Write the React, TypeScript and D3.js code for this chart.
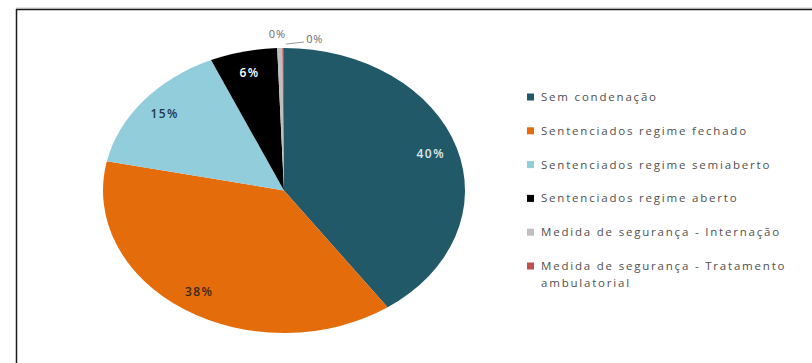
import React from "react";
import * as d3 from "d3";

const categories = [
  "Sem condenação",
  "Sentenciados regime fechado",
  "Sentenciados regime semiaberto",
  "Sentenciados regime aberto",
  "Medida de segurança - Internação",
  "Medida de segurança - Tratamento ambulatorial",
];
const legendLines = [
  ["Sem condenação"],
  ["Sentenciados regime fechado"],
  ["Sentenciados regime semiaberto"],
  ["Sentenciados regime aberto"],
  ["Medida de segurança - Internação"],
  ["Medida de segurança - Tratamento", "ambulatorial"],
];
const values = [40.3, 38.0, 15.1, 6.0, 0.45, 0.15];
const labels = ["40%", "38%", "15%", "6%", "0%", "0%"];
const colors = ["#215968", "#E46C0A", "#92CDDC", "#000000", "#BFBFBF", "#C0504D"];
const labelColors = ["#dfe7ea", "#3a2a1a", "#1f3a4a", "#ffffff", "#6a6a6a", "#6a6a6a"];

const W = 812;
const H = 363;
const cx = 284;
const cy = 190.5;
const rx = 181;
const ry = 142.5;
const R = 100;
const FONT = "'Open Sans', 'Liberation Sans', sans-serif";

export default function App() {
  const pie = d3.pie<number>().sort(null).value((d) => d);
  const arcs = pie(values);
  const arc = d3.arc<d3.PieArcDatum<number>>().innerRadius(0).outerRadius(R);
  const pt = (a: number, f: number) => [cx + rx * f * Math.sin(a), cy - ry * f * Math.cos(a)];

  const legendY = d3.scalePoint<number>().domain(d3.range(categories.length)).range([97, 266]);

  return (
    <div style={{ position: "absolute", left: 0, top: 0 }}>
      <svg width={W} height={H} style={{ display: "block", background: "#fff" }}>
        <line x1={16} x2={W} y1={8} y2={8} stroke="#c8c8c8" strokeWidth={1} />
        <line x1={16} x2={W} y1={9.5} y2={9.5} stroke="#1a1a1a" strokeWidth={1.5} />
        <line x1={16.5} x2={16.5} y1={9} y2={H} stroke="#1a1a1a" strokeWidth={1.5} />

        <g transform={`translate(${cx},${cy}) scale(${rx / R},${ry / R})`}>
          {arcs.map((a, i) => (
            <path key={i} d={arc(a) || ""} fill={colors[i]} />
          ))}
        </g>

        {arcs.map((a, i) => {
          const mid = (a.startAngle + a.endAngle) / 2;
          if (i < 4) {
            const [x, y] = pt(mid, 0.85);
            return (
              <text key={i} x={x} y={y} dy="0.35em" textAnchor="middle" fontFamily={FONT}
                fontSize={12} fontWeight={600} letterSpacing={1.4} fill={labelColors[i]}>
                {labels[i]}
              </text>
            );
          }
          if (i === 4) {
            const [x, y] = pt(mid, 1.1);
            return (
              <text key={i} x={x - 2} y={y} dy="0.35em" textAnchor="middle" fontFamily={FONT}
                fontSize={11} letterSpacing={0.8} fill={labelColors[i]}>
                {labels[i]}
              </text>
            );
          }
          const [x0, y0] = pt(mid, 1.0);
          return (
            <g key={i}>
              <line x1={x0 + 3} y1={y0 - 4} x2={x0 + 21} y2={y0 - 6} stroke="#9a9a9a" strokeWidth={1} />
              <text x={x0 + 23} y={y0 - 9} dy="0.35em" textAnchor="start" fontFamily={FONT}
                fontSize={11} letterSpacing={0.8} fill={labelColors[i]}>
                {labels[i]}
              </text>
            </g>
          );
        })}

        {legendLines.map((lines, i) => {
          const y = legendY(i) as number;
          return (
            <g key={i}>
              <rect x={527} y={y - 3.5} width={7} height={7} fill={colors[i]} />
              {lines.map((ln, j) => (
                <text key={j} x={541} y={y + j * 16.5} dy="0.35em" fontFamily={FONT} fontSize={11.5}
                  letterSpacing={1.8} fill="#505050">
                  {ln}
                </text>
              ))}
            </g>
          );
        })}
      </svg>
    </div>
  );
}
